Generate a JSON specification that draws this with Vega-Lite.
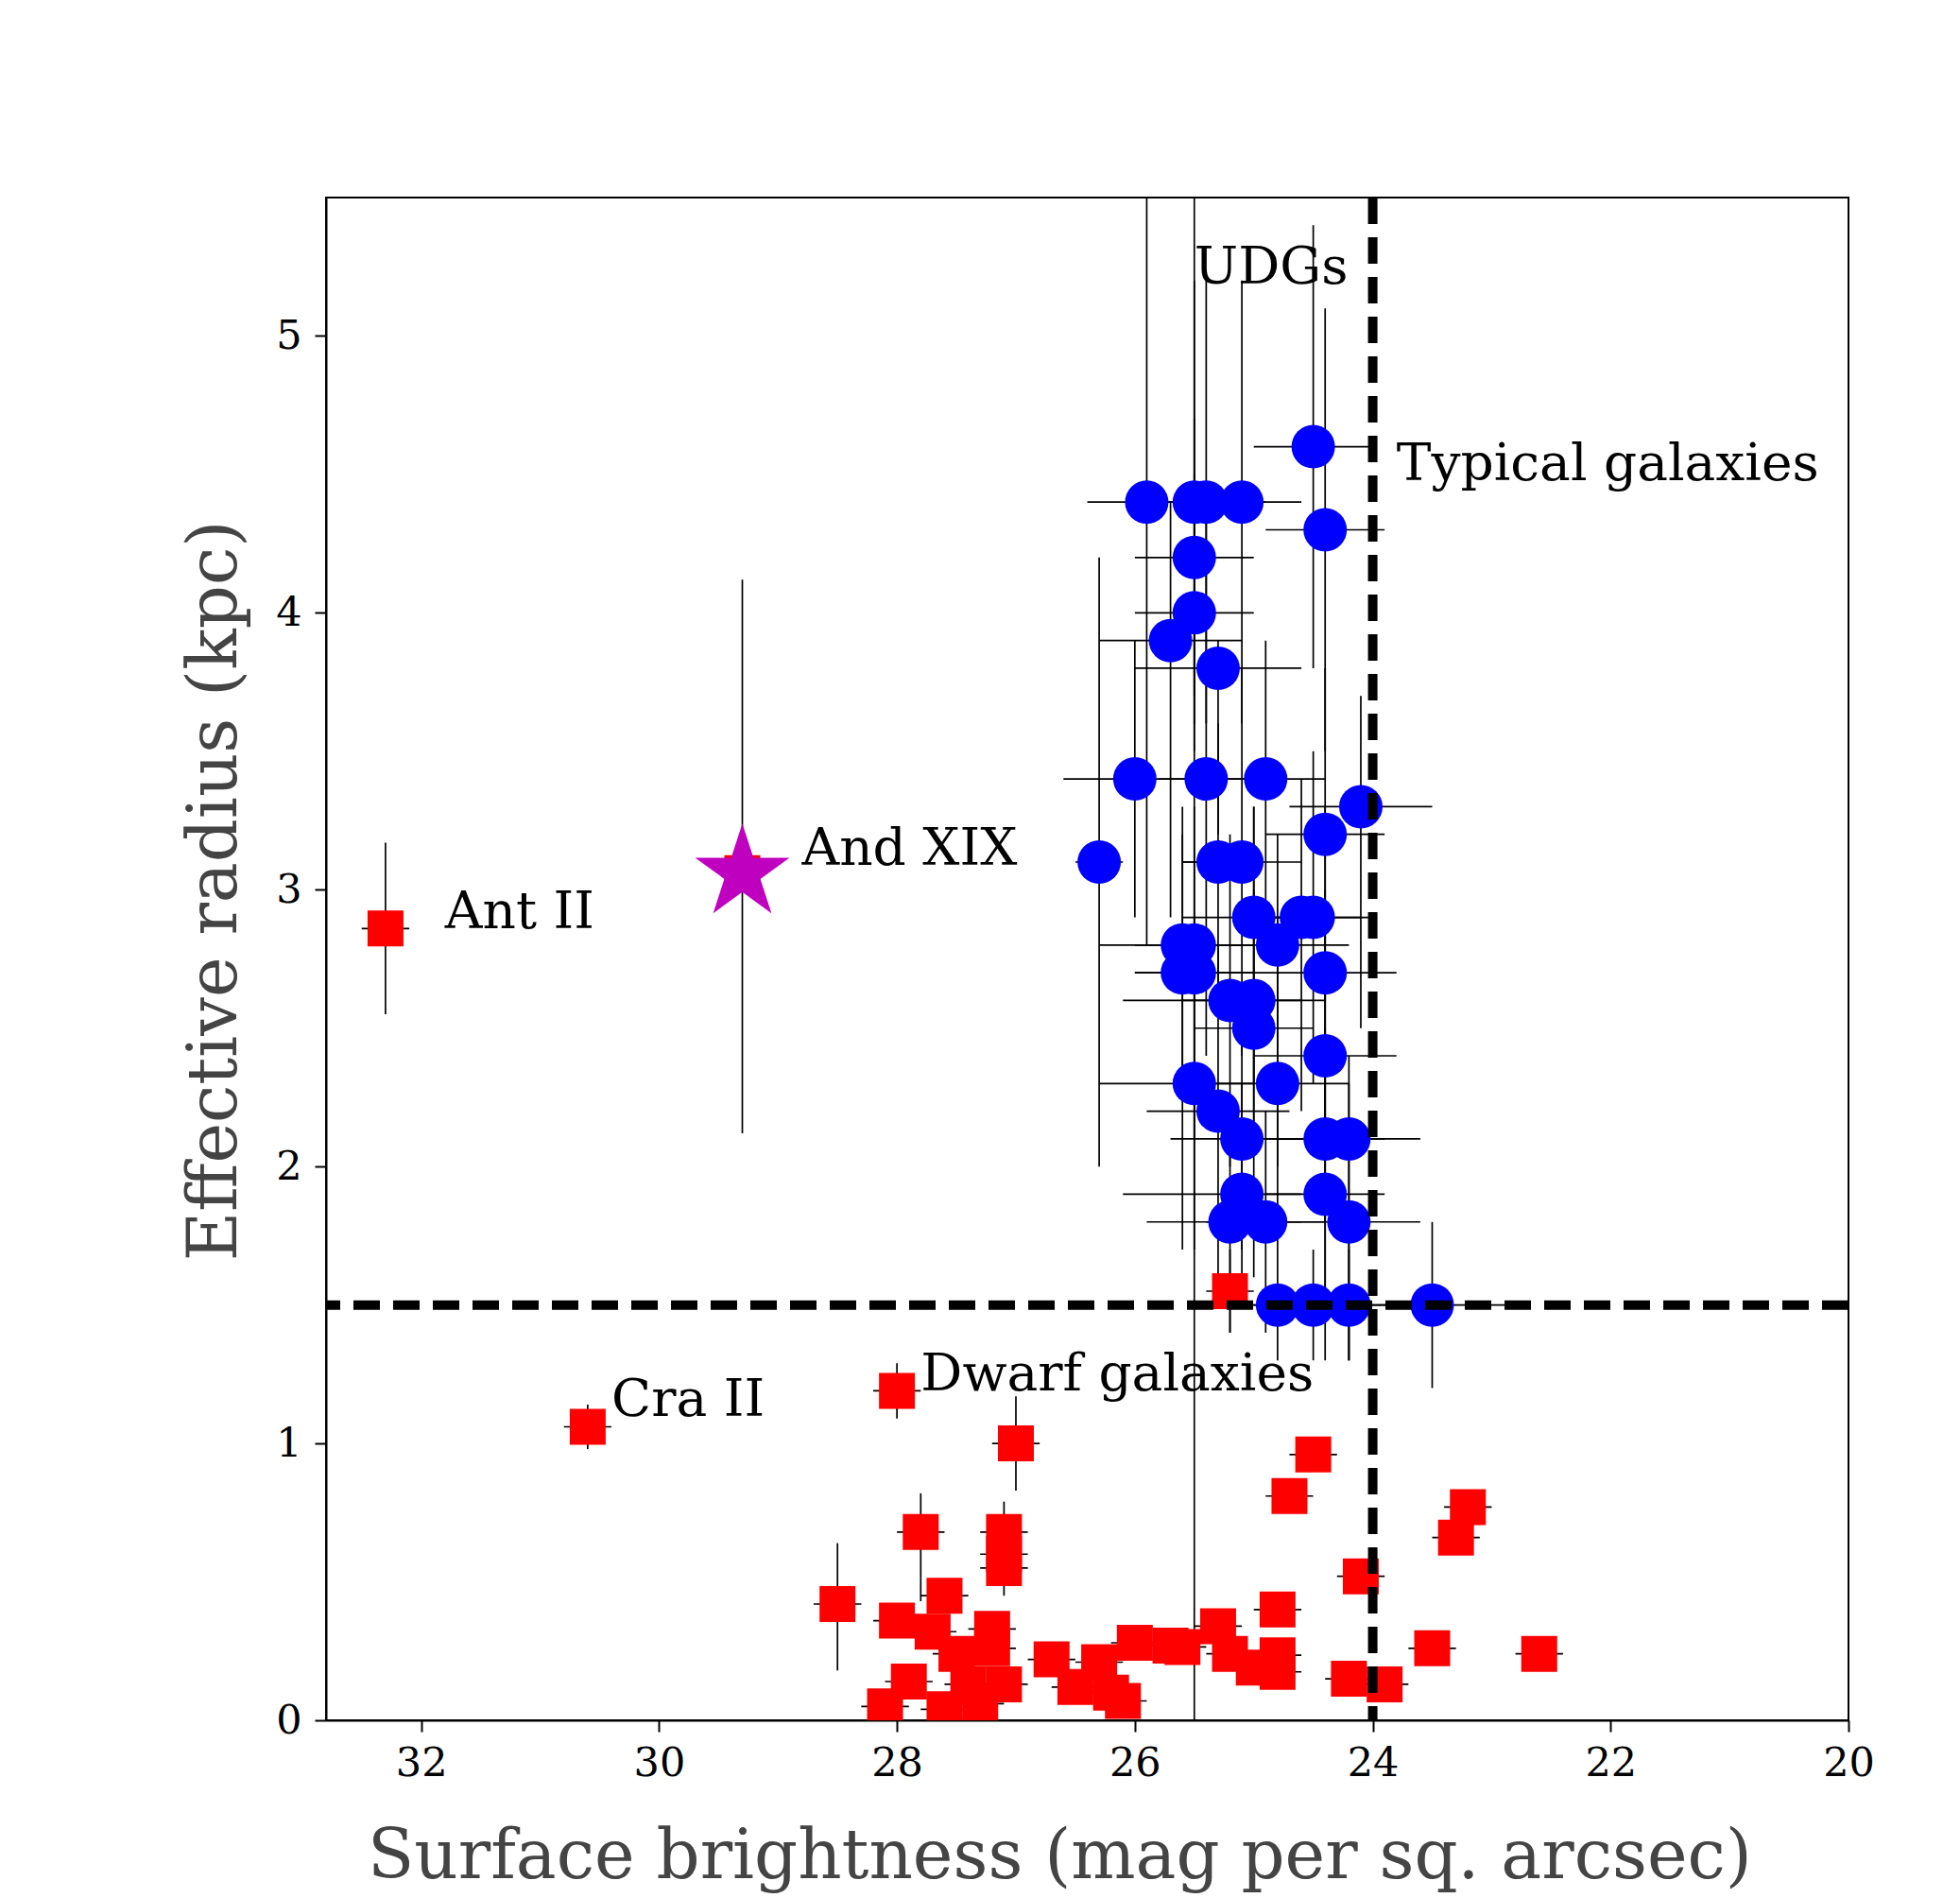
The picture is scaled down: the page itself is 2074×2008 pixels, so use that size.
{
  "$schema": "https://vega.github.io/schema/vega-lite/v6.json",
  "autosize": "none",
  "width": 1611,
  "height": 1611,
  "padding": {"left": 345, "top": 209, "right": 118, "bottom": 188},
  "background": "white",
  "config": {
    "view": {"stroke": "black", "strokeWidth": 2},
    "axis": {"grid": false, "labelFont": "DejaVu Serif", "labelFontSize": 43, "labelColor": "black", "tickColor": "black", "tickWidth": 2, "tickSize": 12, "domainColor": "black", "domainWidth": 2, "labelFlush": false, "labelOverlap": false, "titleFont": "DejaVu Serif", "titleFontSize": 72, "titleFontWeight": "normal", "titleColor": "#444444"}
  },
  "datasets": {
    "blue": [
      {"x":24.5,"y":4.6,"xlo":24.0,"xhi":25.0,"ylo":3.8,"yhi":5.4},
      {"x":25.9,"y":4.4,"xlo":25.4,"xhi":26.4,"ylo":2.8,"yhi":6.0},
      {"x":25.5,"y":4.4,"xlo":25.0,"xhi":26.0,"ylo":3.6,"yhi":5.2},
      {"x":25.4,"y":4.4,"xlo":24.9,"xhi":25.9,"ylo":3.6,"yhi":5.2},
      {"x":25.1,"y":4.4,"xlo":24.6,"xhi":25.6,"ylo":3.6,"yhi":5.2},
      {"x":24.4,"y":4.3,"xlo":23.9,"xhi":24.9,"ylo":3.5,"yhi":5.1},
      {"x":25.5,"y":4.2,"xlo":25.0,"xhi":26.0,"ylo":3.7,"yhi":4.7},
      {"x":25.5,"y":4.0,"xlo":25.0,"xhi":26.0,"ylo":3.5,"yhi":4.5},
      {"x":25.7,"y":3.9,"xlo":25.1,"xhi":26.3,"ylo":2.9,"yhi":4.4},
      {"x":25.3,"y":3.8,"xlo":24.6,"xhi":26.0,"ylo":3.2,"yhi":3.9},
      {"x":26.0,"y":3.4,"xlo":25.4,"xhi":26.6,"ylo":2.9,"yhi":3.9},
      {"x":25.4,"y":3.4,"xlo":25.0,"xhi":25.8,"ylo":2.4,"yhi":4.4},
      {"x":24.9,"y":3.4,"xlo":24.4,"xhi":25.4,"ylo":2.9,"yhi":3.9},
      {"x":24.1,"y":3.3,"xlo":23.5,"xhi":24.7,"ylo":2.5,"yhi":3.7},
      {"x":24.4,"y":3.2,"xlo":23.9,"xhi":24.9,"ylo":2.6,"yhi":3.8},
      {"x":26.3,"y":3.1,"xlo":26.1,"xhi":26.5,"ylo":2.0,"yhi":4.2},
      {"x":25.3,"y":3.1,"xlo":25.0,"xhi":25.6,"ylo":2.6,"yhi":3.6},
      {"x":25.1,"y":3.1,"xlo":24.6,"xhi":25.6,"ylo":2.4,"yhi":3.8},
      {"x":25.0,"y":2.9,"xlo":24.5,"xhi":25.6,"ylo":2.3,"yhi":3.3},
      {"x":24.6,"y":2.9,"xlo":24.1,"xhi":25.1,"ylo":2.2,"yhi":3.4},
      {"x":24.5,"y":2.9,"xlo":24.0,"xhi":25.0,"ylo":2.3,"yhi":3.5},
      {"x":25.6,"y":2.8,"xlo":25.1,"xhi":26.3,"ylo":2.3,"yhi":3.3},
      {"x":25.5,"y":2.8,"xlo":25.0,"xhi":26.0,"ylo":-0.2,"yhi":5.8},
      {"x":24.8,"y":2.8,"xlo":24.2,"xhi":25.4,"ylo":2.0,"yhi":3.2},
      {"x":25.6,"y":2.7,"xlo":25.0,"xhi":26.0,"ylo":1.7,"yhi":3.2},
      {"x":25.5,"y":2.7,"xlo":25.0,"xhi":26.0,"ylo":2.1,"yhi":3.3},
      {"x":24.4,"y":2.7,"xlo":23.8,"xhi":25.0,"ylo":2.1,"yhi":3.3},
      {"x":25.2,"y":2.6,"xlo":24.6,"xhi":26.1,"ylo":2.0,"yhi":3.2},
      {"x":25.0,"y":2.6,"xlo":24.4,"xhi":25.6,"ylo":2.1,"yhi":3.3},
      {"x":25.0,"y":2.5,"xlo":24.5,"xhi":25.5,"ylo":1.6,"yhi":3.0},
      {"x":24.4,"y":2.4,"xlo":23.8,"xhi":25.0,"ylo":1.8,"yhi":3.0},
      {"x":25.5,"y":2.3,"xlo":25.0,"xhi":26.3,"ylo":1.7,"yhi":2.9},
      {"x":24.8,"y":2.3,"xlo":24.2,"xhi":25.4,"ylo":1.7,"yhi":2.9},
      {"x":25.3,"y":2.2,"xlo":24.7,"xhi":25.9,"ylo":1.6,"yhi":2.8},
      {"x":25.1,"y":2.1,"xlo":24.6,"xhi":25.7,"ylo":1.7,"yhi":2.5},
      {"x":24.4,"y":2.1,"xlo":23.9,"xhi":24.9,"ylo":1.5,"yhi":2.7},
      {"x":24.2,"y":2.1,"xlo":23.6,"xhi":24.8,"ylo":1.3,"yhi":2.4},
      {"x":25.1,"y":1.9,"xlo":24.6,"xhi":26.1,"ylo":1.5,"yhi":2.3},
      {"x":24.4,"y":1.9,"xlo":23.9,"xhi":24.9,"ylo":1.3,"yhi":2.5},
      {"x":25.2,"y":1.8,"xlo":24.6,"xhi":25.9,"ylo":1.4,"yhi":2.2},
      {"x":24.9,"y":1.8,"xlo":24.4,"xhi":25.4,"ylo":1.4,"yhi":2.2},
      {"x":24.2,"y":1.8,"xlo":23.6,"xhi":24.8,"ylo":1.3,"yhi":2.3},
      {"x":24.8,"y":1.5,"xlo":24.3,"xhi":25.3,"ylo":1.3,"yhi":1.7},
      {"x":24.5,"y":1.5,"xlo":24.0,"xhi":25.0,"ylo":1.3,"yhi":1.7},
      {"x":24.2,"y":1.5,"xlo":23.7,"xhi":24.7,"ylo":1.3,"yhi":1.7},
      {"x":23.5,"y":1.5,"xlo":22.8,"xhi":24.2,"ylo":1.2,"yhi":1.8}
    ],
    "red": [
      {"x":32.3,"y":2.86,"xlo":32.1,"xhi":32.5,"ylo":2.55,"yhi":3.17},
      {"x":30.6,"y":1.06,"xlo":30.4,"xhi":30.8,"ylo":0.98,"yhi":1.14},
      {"x":29.3,"y":3.06,"xlo":29.1,"xhi":29.5,"ylo":3.0,"yhi":3.12},
      {"x":25.2,"y":1.55,"xlo":25.0,"xhi":25.4,"ylo":1.4,"yhi":1.7},
      {"x":28.0,"y":1.19,"xlo":27.8,"xhi":28.2,"ylo":1.09,"yhi":1.29},
      {"x":27.0,"y":1.0,"xlo":26.8,"xhi":27.2,"ylo":0.83,"yhi":1.17},
      {"x":27.8,"y":0.68,"xlo":27.6,"xhi":28.0,"ylo":0.43,"yhi":0.82},
      {"x":27.1,"y":0.68,"xlo":26.9,"xhi":27.3,"ylo":0.6,"yhi":0.79},
      {"x":27.1,"y":0.6,"xlo":26.9,"xhi":27.3,"ylo":0.55,"yhi":0.65},
      {"x":27.1,"y":0.55,"xlo":26.9,"xhi":27.3,"ylo":0.45,"yhi":0.6},
      {"x":28.5,"y":0.42,"xlo":28.3,"xhi":28.7,"ylo":0.18,"yhi":0.64},
      {"x":28.0,"y":0.36,"xlo":27.8,"xhi":28.2,"ylo":0.3,"yhi":0.42},
      {"x":27.6,"y":0.45,"xlo":27.4,"xhi":27.8,"ylo":0.4,"yhi":0.5},
      {"x":27.7,"y":0.32,"xlo":27.5,"xhi":27.9,"ylo":0.27,"yhi":0.37},
      {"x":27.2,"y":0.33,"xlo":27.0,"xhi":27.4,"ylo":0.28,"yhi":0.38},
      {"x":27.2,"y":0.26,"xlo":27.0,"xhi":27.4,"ylo":0.21,"yhi":0.31},
      {"x":27.5,"y":0.24,"xlo":27.3,"xhi":27.7,"ylo":0.19,"yhi":0.29},
      {"x":27.9,"y":0.14,"xlo":27.7,"xhi":28.1,"ylo":0.1,"yhi":0.18},
      {"x":28.1,"y":0.05,"xlo":27.9,"xhi":28.3,"ylo":0.02,"yhi":0.08},
      {"x":27.6,"y":0.04,"xlo":27.4,"xhi":27.8,"ylo":0.01,"yhi":0.07},
      {"x":27.1,"y":0.13,"xlo":26.9,"xhi":27.3,"ylo":0.09,"yhi":0.17},
      {"x":27.4,"y":0.13,"xlo":27.2,"xhi":27.6,"ylo":0.09,"yhi":0.17},
      {"x":27.3,"y":0.06,"xlo":27.1,"xhi":27.5,"ylo":0.03,"yhi":0.09},
      {"x":26.7,"y":0.22,"xlo":26.5,"xhi":26.9,"ylo":0.16,"yhi":0.28},
      {"x":26.5,"y":0.12,"xlo":26.3,"xhi":26.7,"ylo":0.08,"yhi":0.16},
      {"x":26.3,"y":0.21,"xlo":26.1,"xhi":26.5,"ylo":0.17,"yhi":0.25},
      {"x":26.2,"y":0.1,"xlo":26.0,"xhi":26.4,"ylo":0.07,"yhi":0.13},
      {"x":26.1,"y":0.07,"xlo":25.9,"xhi":26.3,"ylo":0.04,"yhi":0.1},
      {"x":26.0,"y":0.28,"xlo":25.8,"xhi":26.2,"ylo":0.25,"yhi":0.31},
      {"x":25.7,"y":0.27,"xlo":25.5,"xhi":25.9,"ylo":0.24,"yhi":0.3},
      {"x":25.6,"y":0.265,"xlo":25.4,"xhi":25.8,"ylo":0.24,"yhi":0.29},
      {"x":25.3,"y":0.34,"xlo":25.1,"xhi":25.5,"ylo":0.31,"yhi":0.37},
      {"x":25.2,"y":0.24,"xlo":25.0,"xhi":25.4,"ylo":0.21,"yhi":0.27},
      {"x":25.0,"y":0.19,"xlo":24.8,"xhi":25.2,"ylo":0.16,"yhi":0.22},
      {"x":24.8,"y":0.4,"xlo":24.6,"xhi":25.0,"ylo":0.37,"yhi":0.43},
      {"x":24.8,"y":0.235,"xlo":24.6,"xhi":25.0,"ylo":0.21,"yhi":0.26},
      {"x":24.8,"y":0.175,"xlo":24.6,"xhi":25.0,"ylo":0.15,"yhi":0.2},
      {"x":24.7,"y":0.81,"xlo":24.5,"xhi":24.9,"ylo":0.78,"yhi":0.84},
      {"x":24.5,"y":0.96,"xlo":24.3,"xhi":24.7,"ylo":0.93,"yhi":0.99},
      {"x":24.1,"y":0.52,"xlo":23.9,"xhi":24.3,"ylo":0.49,"yhi":0.55},
      {"x":24.2,"y":0.15,"xlo":24.0,"xhi":24.4,"ylo":0.12,"yhi":0.18},
      {"x":23.9,"y":0.13,"xlo":23.7,"xhi":24.1,"ylo":0.1,"yhi":0.16},
      {"x":23.5,"y":0.26,"xlo":23.3,"xhi":23.7,"ylo":0.23,"yhi":0.29},
      {"x":23.3,"y":0.66,"xlo":23.1,"xhi":23.5,"ylo":0.63,"yhi":0.69},
      {"x":23.2,"y":0.77,"xlo":23.0,"xhi":23.4,"ylo":0.74,"yhi":0.8},
      {"x":22.6,"y":0.24,"xlo":22.4,"xhi":22.8,"ylo":0.21,"yhi":0.27}
    ],
    "star": [{"x":29.3,"y":3.06,"ylo":2.12,"yhi":4.12}],
    "thresholds": [{"sb":24,"re":1.5}],
    "labels": [
      {"x":25.5,"y":5.19,"text":"UDGs"},
      {"x":23.8,"y":4.48,"text":"Typical galaxies"},
      {"x":28.8,"y":3.09,"text":"And XIX"},
      {"x":31.8,"y":2.86,"text":"Ant II"},
      {"x":30.4,"y":1.1,"text":"Cra II"},
      {"x":27.8,"y":1.19,"text":"Dwarf galaxies"}
    ]
  },
  "encoding": {
    "x": {"field": "x", "type": "quantitative",
      "scale": {"domain": [32.8, 20], "nice": false, "zero": false},
      "axis": {"values": [20,22,24,26,28,30,32], "labelBaseline": "alphabetic", "labelPadding": 46,
        "title": "Surface brightness (mag per sq. arcsec)", "titleBaseline": "alphabetic", "titleX": 776, "titleY": 166}},
    "y": {"field": "y", "type": "quantitative",
      "scale": {"domain": [0, 5.5], "nice": false, "zero": false},
      "axis": {"values": [0,1,2,3,4,5], "labelPadding": 14,
        "title": "Effective radius (kpc)", "titleBaseline": "alphabetic", "titleX": -96, "titleY": 733}}
  },
  "layer": [
    {"data": {"name": "blue"}, "mark": {"type": "rule", "color": "black", "strokeWidth": 1.7, "clip": true},
     "encoding": {"x": {"field": "xlo", "type": "quantitative"}, "x2": {"field": "xhi"}}},
    {"data": {"name": "blue"}, "mark": {"type": "rule", "color": "black", "strokeWidth": 1.7, "clip": true},
     "encoding": {"y": {"field": "ylo", "type": "quantitative"}, "y2": {"field": "yhi"}}},
    {"data": {"name": "blue"}, "mark": {"type": "point", "shape": "circle", "filled": true, "color": "#0000ff", "opacity": 1, "size": 2116, "clip": true}},
    {"data": {"name": "red"}, "mark": {"type": "rule", "color": "black", "strokeWidth": 1.7, "clip": true},
     "encoding": {"x": {"field": "xlo", "type": "quantitative"}, "x2": {"field": "xhi"}}},
    {"data": {"name": "red"}, "mark": {"type": "rule", "color": "black", "strokeWidth": 1.7, "clip": true},
     "encoding": {"y": {"field": "ylo", "type": "quantitative"}, "y2": {"field": "yhi"}}},
    {"data": {"name": "red"}, "mark": {"type": "point", "shape": "square", "filled": true, "color": "#ff0000", "opacity": 1, "size": 1444, "clip": true}},
    {"data": {"name": "star"}, "mark": {"type": "rule", "color": "black", "strokeWidth": 1.7, "clip": true},
     "encoding": {"y": {"field": "ylo", "type": "quantitative"}, "y2": {"field": "yhi"}}},
    {"data": {"name": "star"}, "mark": {"type": "point", "shape": "M0,-1L0.2245,-0.309L0.9511,-0.309L0.3633,0.118L0.5878,0.809L0,0.382L-0.5878,0.809L-0.3633,0.118L-0.9511,-0.309L-0.2245,-0.309Z", "filled": true, "color": "#bf00bf", "opacity": 1, "size": 11025}},
    {"data": {"name": "thresholds"}, "mark": {"type": "rule", "color": "black", "strokeWidth": 10, "strokeDash": [28, 14]},
     "encoding": {"x": {"field": "sb", "type": "quantitative"}, "y": null}},
    {"data": {"name": "thresholds"}, "mark": {"type": "rule", "color": "black", "strokeWidth": 10, "strokeDash": [28, 14]},
     "encoding": {"y": {"field": "re", "type": "quantitative"}, "x": null}},
    {"data": {"name": "labels"}, "mark": {"type": "text", "font": "DejaVu Serif", "fontSize": 55, "align": "left", "baseline": "alphabetic", "color": "black"},
     "encoding": {"text": {"field": "text"}}}
  ]
}
